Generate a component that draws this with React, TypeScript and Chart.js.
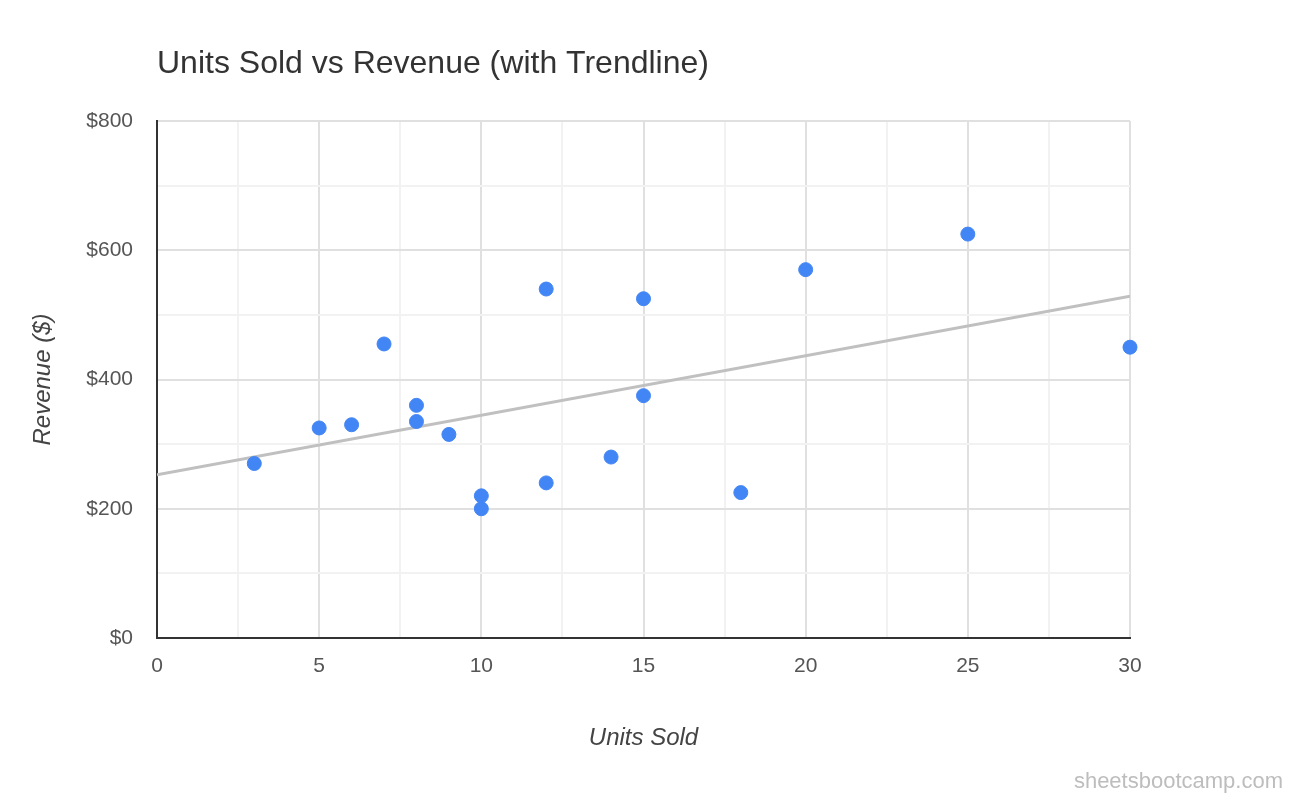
import { useEffect, useRef } from "react";
import { Chart, ChartConfiguration, registerables } from "chart.js";

Chart.register(...registerables);

// Units sold vs revenue
const unitsSold = [3, 5, 6, 7, 8, 8, 9, 10, 10, 12, 12, 14, 15, 15, 18, 20, 25, 30];
const revenue = [270, 325, 330, 455, 360, 335, 315, 220, 200, 540, 240, 280, 525, 375, 225, 570, 625, 450];

const xMin = 0;
const xMax = 30;
const yMin = 0;
const yMax = 800;

const FONT = "'Liberation Sans', Arial, sans-serif";

// least squares fit for the trendline
function linearFit(xs: number[], ys: number[]) {
  const n = xs.length;
  const mx = xs.reduce((a, b) => a + b, 0) / n;
  const my = ys.reduce((a, b) => a + b, 0) / n;
  let num = 0;
  let den = 0;
  for (let i = 0; i < n; i++) {
    num += (xs[i] - mx) * (ys[i] - my);
    den += (xs[i] - mx) * (xs[i] - mx);
  }
  const slope = num / den;
  return { slope, intercept: my - slope * mx };
}

const titlePlugin = {
  id: "sheetTitle",
  afterDraw(chart: Chart) {
    const { ctx, chartArea } = chart;
    ctx.save();
    ctx.font = `32px ${FONT}`;
    ctx.fillStyle = "#333333";
    ctx.textAlign = "left";
    ctx.textBaseline = "alphabetic";
    ctx.fillText("Units Sold vs Revenue (with Trendline)", chartArea.left, 73);

    ctx.font = `22px ${FONT}`;
    ctx.fillStyle = "#bdbdbd";
    ctx.textAlign = "right";
    ctx.fillText("sheetsbootcamp.com", 1283, 788);
    ctx.restore();
  },
};

export default function App() {
  const canvasRef = useRef<HTMLCanvasElement>(null);
  const chartRef = useRef<Chart | null>(null);

  useEffect(() => {
    if (!canvasRef.current) return;
    if (chartRef.current) chartRef.current.destroy();

    const ctx = canvasRef.current.getContext("2d");
    if (!ctx) return;

    const fit = linearFit(unitsSold, revenue);

    const config: ChartConfiguration = {
      type: "scatter",
      data: {
        datasets: [
          {
            type: "scatter",
            label: "Revenue",
            data: unitsSold.map((x, i) => ({ x, y: revenue[i] })),
            backgroundColor: "#4285f4",
            borderColor: "#4285f4",
            pointRadius: 7,
            pointBorderWidth: 1,
            pointHoverRadius: 7,
            clip: false as any,
            order: 0,
          },
          {
            type: "line",
            label: "Trendline",
            data: [
              { x: xMin, y: fit.intercept + fit.slope * xMin },
              { x: xMax, y: fit.intercept + fit.slope * xMax },
            ],
            borderColor: "#c0c0c0",
            borderWidth: 3,
            pointRadius: 0,
            fill: false,
            order: 1,
          },
        ],
      },
      options: {
        responsive: false,
        animation: false,
        layout: { padding: { top: 121, right: 170, left: 0, bottom: 0 } },
        plugins: {
          legend: { display: false },
          title: { display: false },
          tooltip: { enabled: false },
        },
        scales: {
          x: {
            type: "linear",
            min: xMin,
            max: xMax,
            afterFit: (scale: any) => {
              scale.height = 162;
            },
            border: { color: "#333333", width: 2 },
            grid: {
              drawTicks: false,
              lineWidth: 2,
              color: (c: any) => (c.tick && c.tick.value % 5 === 0 ? "#e0e0e0" : "#f2f2f2"),
            },
            ticks: {
              stepSize: 2.5,
              autoSkip: false,
              maxRotation: 0,
              padding: 16,
              color: "#555555",
              font: { family: FONT, size: 21 },
              callback: (v: any) => (Number(v) % 5 === 0 ? String(v) : ""),
            },
            title: {
              display: true,
              text: "Units Sold",
              color: "#444444",
              font: { family: FONT, size: 24, style: "italic" },
              padding: { top: 0, bottom: 47 },
            },
          },
          y: {
            type: "linear",
            min: yMin,
            max: yMax,
            afterFit: (scale: any) => {
              scale.width = 157;
            },
            border: { color: "#333333", width: 2 },
            grid: {
              drawTicks: false,
              lineWidth: 2,
              color: (c: any) => (c.tick && c.tick.value % 200 === 0 ? "#e0e0e0" : "#f2f2f2"),
            },
            ticks: {
              stepSize: 100,
              padding: 24,
              color: "#555555",
              font: { family: FONT, size: 21 },
              callback: (v: any) => (Number(v) % 200 === 0 ? "$" + v : ""),
            },
            title: {
              display: true,
              text: "Revenue ($)",
              color: "#444444",
              font: { family: FONT, size: 24, style: "italic" },
              padding: { top: 29, bottom: 0 },
            },
          },
        },
      },
      plugins: [titlePlugin],
    };

    chartRef.current = new Chart(ctx, config);

    return () => {
      if (chartRef.current) {
        chartRef.current.destroy();
        chartRef.current = null;
      }
    };
  }, []);

  return (
    <div style={{ position: "fixed", left: 0, top: 0, width: 1300, height: 800, background: "#fff" }}>
      <canvas ref={canvasRef} width={1300} height={800} style={{ display: "block" }} />
    </div>
  );
}
